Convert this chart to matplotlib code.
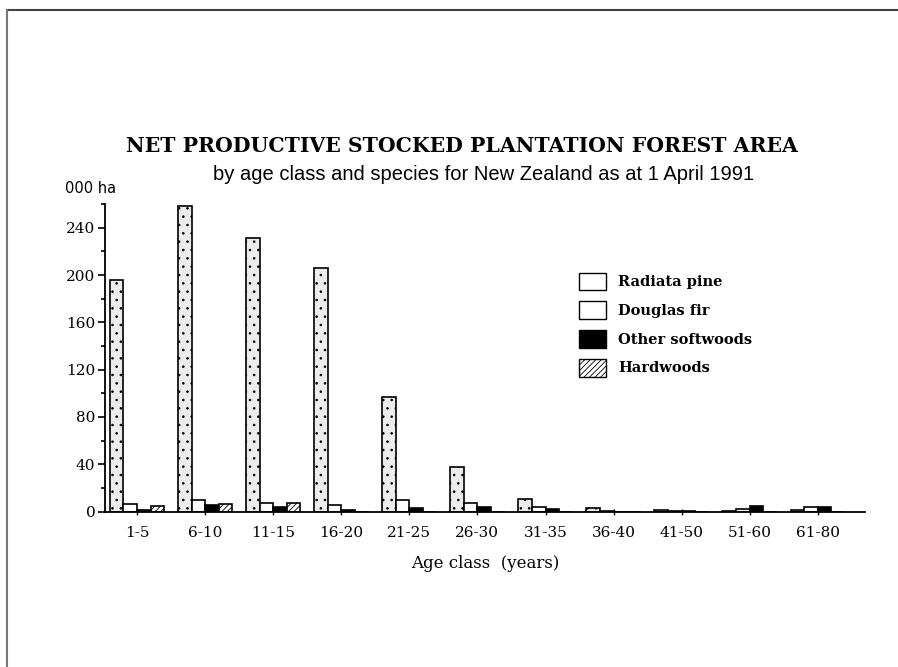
import numpy as np
import matplotlib
matplotlib.use("Agg")
from matplotlib import pyplot as plt
from matplotlib.patches import Patch
from matplotlib.lines import Line2D
from matplotlib.ticker import MultipleLocator

age_classes = ["1-5", "6-10", "11-15", "16-20", "21-25", "26-30",
               "31-35", "36-40", "41-50", "51-60", "61-80"]
radiata = [196, 258, 231, 206, 97, 37.5, 10.5, 3, 1.5, 0.5, 1.5]
douglas = [6, 10, 7, 5.5, 10, 7, 4, 0.7, 0.3, 2, 3.5]
other_soft = [1.5, 5.5, 3.5, 1, 3, 4, 2, 0, 0.5, 4.5, 4]
hardwoods = [4.5, 6.5, 7, 0, 0, 0, 0, 0, 0, 0, 0]

plt.rcParams['hatch.linewidth'] = 0.6

fig = plt.figure(figsize=(8.98, 6.67), dpi=100)
ax = fig.add_axes([0.117, 0.233, 0.846, 0.461])

x = np.arange(len(age_classes))
w = 0.2

ax.bar(x - 1.5 * w, radiata, w, facecolor='#ececec', edgecolor='black',
       hatch='..', linewidth=1.2)
ax.bar(x - 0.5 * w, douglas, w, facecolor='white', edgecolor='black', linewidth=1.2)
ax.bar(x + 0.5 * w, other_soft, w, facecolor='black', edgecolor='black', linewidth=1.2)
ax.bar(x + 1.5 * w, hardwoods, w, facecolor='white', edgecolor='black',
       hatch='//////', linewidth=1.2)

ax.set_xlim(-0.47, 10.69)
ax.set_ylim(0, 260)
ax.set_xticks(x)
ax.set_xticklabels(age_classes, family='DejaVu Serif', fontsize=11)
ax.yaxis.set_major_locator(MultipleLocator(40))
ax.yaxis.set_minor_locator(MultipleLocator(20))
for lbl in ax.get_yticklabels():
    lbl.set_family('DejaVu Serif')
    lbl.set_fontsize(11)
ax.tick_params(axis='y', which='major', length=5, width=1.2, pad=2)
ax.tick_params(axis='y', which='minor', length=3, width=1.2)
ax.tick_params(axis='x', length=5, width=1, direction='inout', pad=8)
ax.spines['top'].set_visible(False)
ax.spines['right'].set_visible(False)
ax.spines['left'].set_linewidth(1.3)
ax.spines['bottom'].set_linewidth(1.3)

ax.set_xlabel("Age class  (years)", family='DejaVu Serif', fontsize=12, labelpad=11)

fig.text(0.514, 0.781, "NET PRODUCTIVE STOCKED PLANTATION FOREST AREA",
         ha='center', va='center', family='DejaVu Serif', fontweight='bold',
         fontsize=14.7)
fig.text(0.538, 0.738, "by age class and species for New Zealand as at 1 April 1991",
         ha='center', va='center', family='Liberation Sans', fontsize=14.5)
fig.text(0.072, 0.718, "000 ha", ha='left', va='center', family='DejaVu Sans', fontsize=10.5)

handles = [Patch(facecolor='white', edgecolor='black', linewidth=1),
           Patch(facecolor='white', edgecolor='black', linewidth=1),
           Patch(facecolor='black', edgecolor='black', linewidth=1),
           Patch(facecolor='white', edgecolor='black', hatch='//////', linewidth=1)]
labels = ["Radiata pine", "Douglas fir", "Other softwoods", "Hardwoods"]
ax.legend(handles, labels, loc='upper left', bbox_to_anchor=(0.606, 0.82),
          frameon=False, handlelength=1.9, handleheight=1.5, labelspacing=0.75,
          prop={'family': 'DejaVu Serif', 'weight': 'bold', 'size': 10.5})

# page frame (scanned page edge)
fig.add_artist(Line2D([0.008, 1.0], [0.985, 0.985], color='#444444', lw=1.5))
fig.add_artist(Line2D([0.008, 0.008], [0.0, 0.985], color='#777777', lw=1.5))

fig.savefig("out.png", dpi=100)
